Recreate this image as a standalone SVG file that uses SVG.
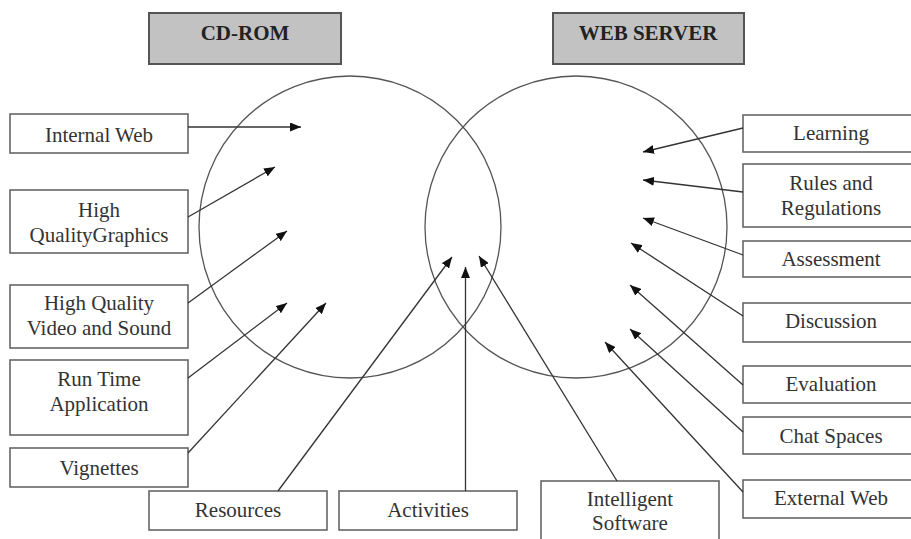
<svg xmlns="http://www.w3.org/2000/svg" width="911" height="539" viewBox="0 0 911 539">
<defs>
<marker id="ah" markerUnits="userSpaceOnUse" markerWidth="11" markerHeight="9" refX="11" refY="4.5" orient="auto">
<path d="M0,0 L11,4.5 L0,9 z" fill="#111"/>
</marker>
<style>
.bx{fill:#fff;stroke:#666;stroke-width:1.6}
.hd{fill:#c2c2c2;stroke:#555;stroke-width:2}
.t{font-family:"Liberation Serif","Times New Roman",serif;font-size:21px;fill:#333;text-anchor:middle}
.th{font-family:"Liberation Serif","Times New Roman",serif;font-size:21px;font-weight:bold;fill:#222;text-anchor:middle}
.c{fill:none;stroke:#555;stroke-width:1.3}
.ln{stroke:#333;stroke-width:1.3;fill:none;marker-end:url(#ah)}
</style>
</defs>
<rect width="911" height="539" fill="#fff"/>
<g id="circles">
<circle class="c" cx="350" cy="227" r="151"/>
<circle class="c" cx="576" cy="227" r="151"/>
</g>
<g id="cdrom"><rect class="hd" x="149" y="13" width="192" height="51"/><text class="th" x="245" y="40">CD-ROM</text></g>
<g id="webserver"><rect class="hd" x="553" y="13" width="191" height="51"/><text class="th" x="648" y="40">WEB SERVER</text></g>
<g id="internalweb"><rect class="bx" x="10" y="114" width="178" height="39"/><text class="t" x="99" y="142">Internal Web</text></g>
<g id="hqgraphics"><rect class="bx" x="10" y="190" width="178" height="63"/><text class="t" x="99" y="217">High</text><text class="t" x="99" y="242">QualityGraphics</text></g>
<g id="hqvideo"><rect class="bx" x="10" y="285" width="178" height="63"/><text class="t" x="99" y="310">High Quality</text><text class="t" x="99" y="335">Video and Sound</text></g>
<g id="runtime"><rect class="bx" x="10" y="360" width="178" height="75"/><text class="t" x="99" y="386">Run Time</text><text class="t" x="99" y="411">Application</text></g>
<g id="vignettes"><rect class="bx" x="10" y="448" width="178" height="39"/><text class="t" x="99" y="475">Vignettes</text></g>
<g id="resources"><rect class="bx" x="149" y="491" width="178" height="39"/><text class="t" x="238" y="517">Resources</text></g>
<g id="activities"><rect class="bx" x="339" y="491" width="178" height="39"/><text class="t" x="428" y="517">Activities</text></g>
<g id="intelligent"><rect class="bx" x="541" y="481" width="178" height="62"/><text class="t" x="630" y="506">Intelligent</text><text class="t" x="630" y="530">Software</text></g>
<g id="learning"><rect class="bx" x="743" y="115" width="176" height="37"/><text class="t" x="831" y="140">Learning</text></g>
<g id="rules"><rect class="bx" x="743" y="164" width="176" height="63"/><text class="t" x="831" y="190">Rules and</text><text class="t" x="831" y="215">Regulations</text></g>
<g id="assessment"><rect class="bx" x="743" y="241" width="176" height="36"/><text class="t" x="831" y="266">Assessment</text></g>
<g id="discussion"><rect class="bx" x="743" y="303" width="176" height="39"/><text class="t" x="831" y="328">Discussion</text></g>
<g id="evaluation"><rect class="bx" x="743" y="366" width="176" height="37"/><text class="t" x="831" y="391">Evaluation</text></g>
<g id="chat"><rect class="bx" x="743" y="417" width="176" height="37"/><text class="t" x="831" y="443">Chat Spaces</text></g>
<g id="externalweb"><rect class="bx" x="743" y="480" width="176" height="38"/><text class="t" x="831" y="505">External Web</text></g>
<g id="connectors">
<line class="ln" x1="188" y1="127" x2="301" y2="127"/>
<line class="ln" x1="188" y1="217" x2="275" y2="167"/>
<line class="ln" x1="188" y1="303" x2="287" y2="231"/>
<line class="ln" x1="188" y1="378" x2="287" y2="303"/>
<line class="ln" x1="188" y1="453" x2="326" y2="303"/>
<line class="ln" x1="278" y1="491" x2="452" y2="257"/>
<line class="ln" x1="465.5" y1="491" x2="465.5" y2="267"/>
<line class="ln" x1="617" y1="481" x2="479" y2="256"/>
<line class="ln" x1="743" y1="128" x2="643" y2="152"/>
<line class="ln" x1="743" y1="192" x2="643" y2="180"/>
<line class="ln" x1="743" y1="255" x2="643" y2="218"/>
<line class="ln" x1="743" y1="316" x2="631" y2="243"/>
<line class="ln" x1="743" y1="385" x2="630" y2="285"/>
<line class="ln" x1="743" y1="432" x2="630" y2="329"/>
<line class="ln" x1="743" y1="492" x2="605" y2="342"/>
</g>
</svg>
